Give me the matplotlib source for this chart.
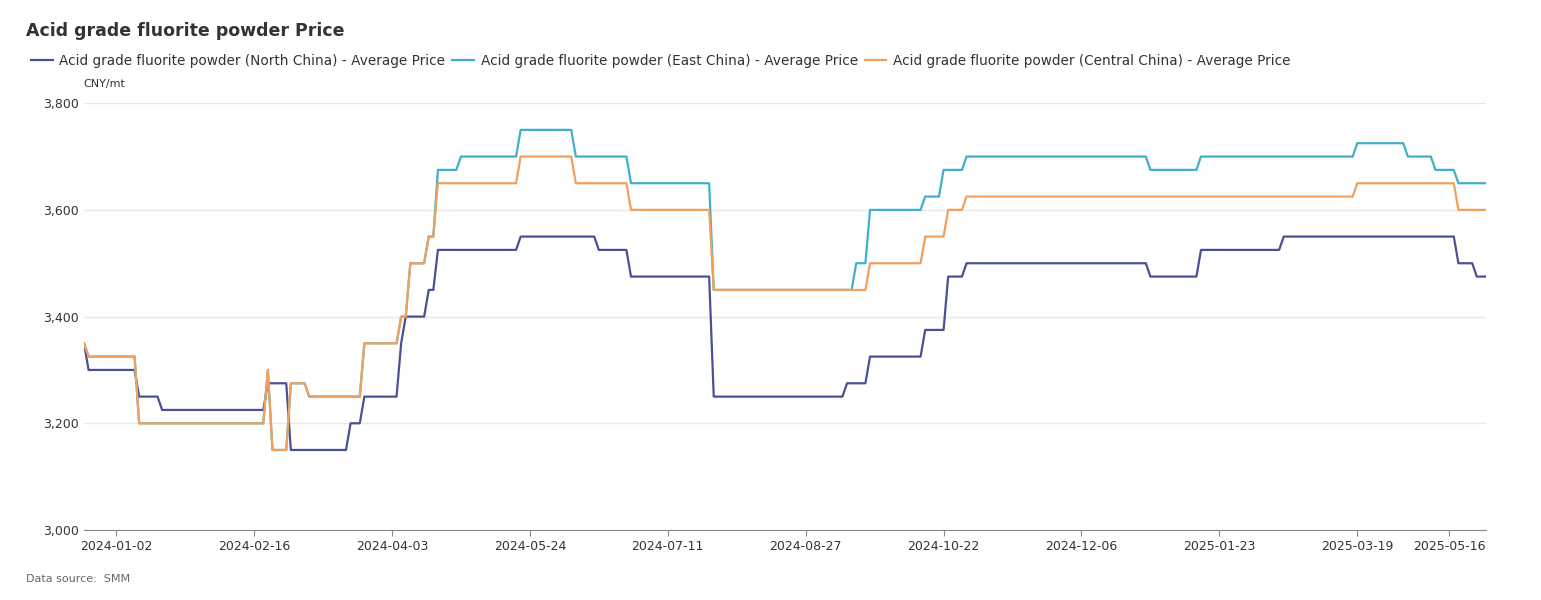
import numpy as np
import matplotlib
matplotlib.use("Agg")
import matplotlib.pyplot as plt

n_days = 306
tick_idx = [7, 37, 67, 97, 127, 157, 187, 217, 247, 277, 297]
tick_labels = ["2024-01-02", "2024-02-16", "2024-04-03", "2024-05-24", "2024-07-11",
               "2024-08-27", "2024-10-22", "2024-12-06", "2025-01-23", "2025-03-19", "2025-05-16"]

north_idx = [0, 1, 12, 17, 40, 45, 58, 61, 69, 70, 75, 77, 95, 112, 119, 137, 166, 171, 183, 188, 192, 232, 243, 261, 299, 303]
north_val = [3350, 3300, 3250, 3225, 3275, 3150, 3200, 3250, 3350, 3400, 3450, 3525, 3550, 3525, 3475, 3250, 3275, 3325, 3375, 3475, 3500, 3475, 3525, 3550, 3500, 3475]

east_idx = [0, 1, 12, 40, 41, 45, 49, 61, 69, 71, 75, 77, 82, 95, 107, 119, 137, 168, 171, 183, 187, 192, 232, 243, 277, 288, 294, 299]
east_val = [3350, 3325, 3200, 3300, 3150, 3275, 3250, 3350, 3400, 3500, 3550, 3675, 3700, 3750, 3700, 3650, 3450, 3500, 3600, 3625, 3675, 3700, 3675, 3700, 3725, 3700, 3675, 3650]

central_idx = [0, 1, 12, 40, 41, 45, 49, 61, 69, 71, 75, 77, 95, 107, 119, 137, 171, 183, 188, 192, 277, 299]
central_val = [3350, 3325, 3200, 3300, 3150, 3275, 3250, 3350, 3400, 3500, 3550, 3650, 3700, 3650, 3600, 3450, 3500, 3550, 3600, 3625, 3650, 3600]

def expand(idx, val):
    out = np.empty(n_days)
    for i, v in zip(idx, val):
        out[i:] = v
    return out

x = np.arange(n_days)
fig = plt.figure(figsize=(15.41, 6), dpi=100)
ax = fig.add_axes([0.0545, 0.1167, 0.9098, 0.7113])
series = [("Acid grade fluorite powder (North China) - Average Price", north_idx, north_val, "#4b5096"),
          ("Acid grade fluorite powder (East China) - Average Price", east_idx, east_val, "#3fb0c8"),
          ("Acid grade fluorite powder (Central China) - Average Price", central_idx, central_val, "#f2a05c")]
for name, i, v, c in series:
    ax.plot(x, expand(i, v), color=c, lw=1.6, label=name)

ax.set_xlim(0, n_days - 1)
ax.set_ylim(3000, 3800)
ax.set_yticks(range(3000, 3801, 200))
ax.set_yticklabels([f"{v:,}" for v in range(3000, 3801, 200)])
ax.set_xticks(tick_idx)
ax.set_xticklabels(tick_labels)
ax.tick_params(axis="both", labelsize=9, colors="#333333")
ax.tick_params(axis="y", length=0)
ax.tick_params(axis="x", length=4, color="#888888")
ax.grid(axis="y", color="#e8e8e8", lw=1)
ax.set_axisbelow(True)
for s in ["top", "right", "left"]:
    ax.spines[s].set_visible(False)
ax.spines["bottom"].set_color("#888888")

fig.text(0.017, 0.94, "Acid grade fluorite powder Price", fontsize=12.5, fontweight="bold", color="#333333")
fig.legend(loc="upper left", bbox_to_anchor=(0.012, 0.93), ncol=3, frameon=False,
           fontsize=9.8, handlelength=1.6, columnspacing=0.5, handletextpad=0.5, labelcolor="#333333")
fig.text(0.054, 0.855, "CNY/mt", fontsize=8, color="#333333")
fig.text(0.017, 0.03, "Data source:  SMM", fontsize=8, color="#666666")
fig.savefig("out.png", dpi=100, facecolor="white")
